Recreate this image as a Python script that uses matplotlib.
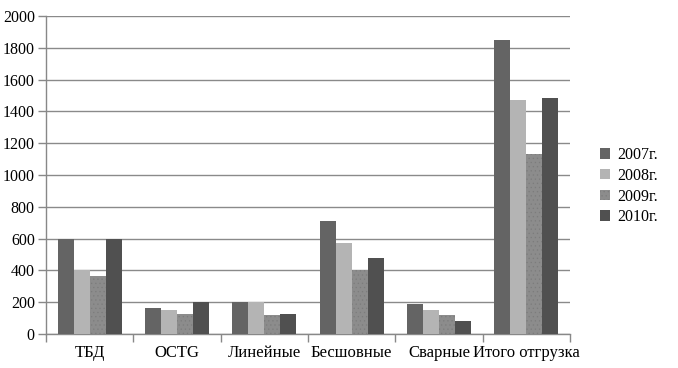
import matplotlib

matplotlib.use("Agg")
import matplotlib.pyplot as plt
import numpy as np

categories = ["ТБД", "OCTG", "Линейные", "Бесшовные", "Сварные", "Итого отгрузка"]
years = ["2007г.", "2008г.", "2009г.", "2010г."]
values_2007 = [600, 165, 200, 711, 189, 1849]
values_2008 = [400, 150, 200, 574, 151, 1472]
values_2009 = [365, 125, 118, 400, 120, 1132]
values_2010 = [600, 200, 125, 478, 82, 1484]
y_ticks = [0, 200, 400, 600, 800, 1000, 1200, 1400, 1600, 1800, 2000]

plt.rcParams["font.family"] = ["Liberation Serif", "DejaVu Serif"]
plt.rcParams["hatch.linewidth"] = 0.4

fig = plt.figure(figsize=(6.78, 3.68), dpi=100)
ax = fig.add_axes([0.0678, 0.0924, 0.7729, 0.8641])

series = [values_2007, values_2008, values_2009, values_2010]
colors = ["#646464", "#b4b4b4", "#8c8c8c", "#505050"]
hatches = [None, None, "....", None]
width = 0.183
centers = np.arange(len(categories)) + 0.5
for i, (vals, color, hatch, label) in enumerate(zip(series, colors, hatches, years)):
    offset = (i - 1.5) * width
    ax.bar(centers + offset, vals, width=width, color=color, label=label,
           hatch=hatch, edgecolor="#7c7c7c" if hatch else color, linewidth=0, zorder=3)

ax.set_xlim(0, len(categories))
ax.set_ylim(0, 2000)
ax.set_yticks(y_ticks)
ax.tick_params(axis="y", labelsize=11.5, length=6, color="#888888", width=1, pad=2)
ax.set_xticks(centers)
ax.set_xticklabels(categories)
ax.set_xticks(np.arange(len(categories) + 1), minor=True)
ax.tick_params(axis="x", which="major", length=0, labelsize=12, pad=8)
ax.tick_params(axis="x", which="minor", length=6, color="#888888", width=1)
ax.grid(axis="y", color="#8a8a8a", linewidth=1, zorder=0)
for side in ("top", "right"):
    ax.spines[side].set_visible(False)
for side in ("left", "bottom"):
    ax.spines[side].set_color("#888888")
    ax.spines[side].set_linewidth(1)

ax.legend(loc="center left", bbox_to_anchor=(1.03, 0.465), frameon=False, fontsize=11.5,
          handlelength=0.65, handleheight=0.65, handletextpad=0.45, labelspacing=0.3)

fig.savefig("out.png", dpi=100)
